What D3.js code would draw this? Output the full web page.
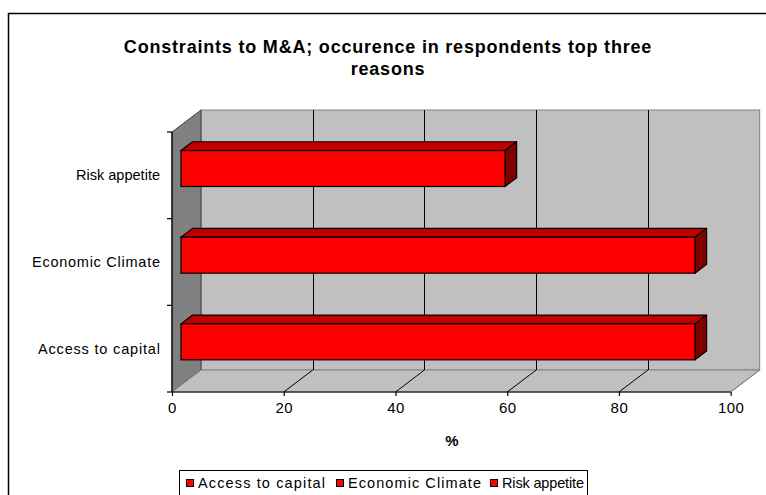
<!DOCTYPE html>
<html>
<head>
<meta charset="utf-8">
<script src="https://d3js.org/d3.v7.min.js"></script>
<style>
  html, body { margin: 0; padding: 0; background: #ffffff; }
  svg { display: block; }
  text { font-family: "Liberation Sans", Arial, sans-serif; fill: #000; }
</style>
</head>
<body>
<svg id="chart" width="766" height="495"></svg>
<script>
// Categories listed bottom to top, as stacked on the category axis
const categories = ["Access to capital", "Economic Climate", "Risk appetite"];
const seriesNames = ["Access to capital", "Economic Climate", "Risk appetite"];
const values = [92, 92, 58];
const xTicks = [0, 20, 40, 60, 80, 100];
const titleLines = ["Constraints to M&A; occurence in respondents top three", "reasons"];
const axisTitle = "%";

// set text widths for the category and legend labels (layout only)
const catLabelWidth = { "Access to capital": 122, "Economic Climate": 128, "Risk appetite": 84 };
const legendLabelWidth = { "Access to capital": 127, "Economic Climate": 133, "Risk appetite": 82 };

const svg = d3.select("#chart");

// outer chart frame (continues past the right and bottom edges)
svg.append("path")
  .attr("d", "M8.5,500 L8.5,13.5 L770,13.5")
  .attr("fill", "none").attr("stroke", "#000").attr("stroke-width", 1.5);

// 3-D box geometry
const DX = 29, DY = -22;            // depth offset of back wall
const x = d3.scaleLinear().domain([0, 100]).range([172, 730.7]);
const y = d3.scaleBand().domain(categories).range([392, 132]).padding(0);
const yTop = 132, yBot = 392;

const g = svg.append("g");

// back wall
g.append("rect")
  .attr("x", x(0) + DX).attr("y", yTop + DY)
  .attr("width", x(100) - x(0)).attr("height", yBot - yTop)
  .attr("fill", "#c0c0c0").attr("stroke", "#808080").attr("stroke-width", 1);

// left side wall
g.append("path")
  .attr("d", `M${x(0)},${yTop} L${x(0) + DX},${yTop + DY} L${x(0) + DX},${yBot + DY} L${x(0)},${yBot} Z`)
  .attr("fill", "#808080").attr("stroke", "#404040").attr("stroke-width", 1);

// floor
g.append("path")
  .attr("d", `M${x(0)},${yBot} L${x(0) + DX},${yBot + DY} L${x(100) + DX},${yBot + DY} L${x(100)},${yBot} Z`)
  .attr("fill", "#c0c0c0").attr("stroke", "#808080").attr("stroke-width", 1);

// vertical gridlines on back wall and matching floor lines
const inner = xTicks.filter(t => t > 0 && t < 100);
g.selectAll("line.grid").data(inner).join("line")
  .attr("class", "grid")
  .attr("x1", d => Math.round(x(d) + DX) + 0.5).attr("x2", d => Math.round(x(d) + DX) + 0.5)
  .attr("y1", yTop + DY).attr("y2", yBot + DY)
  .attr("stroke", "#000").attr("stroke-width", 1);
g.selectAll("line.floor").data(xTicks.filter(t => t > 0)).join("line")
  .attr("class", "floor")
  .attr("x1", d => x(d)).attr("y1", yBot)
  .attr("x2", d => x(d) + DX).attr("y2", yBot + DY)
  .attr("stroke", d => d === 100 ? "#808080" : "#000").attr("stroke-width", 1);

// bars: front face, top face and end face
const f0 = 0.31, f1 = 0.71;          // depth span occupied by the bars
const barFrac = 0.415;
const bh = y.bandwidth() * barFrac;
const rows = categories.map((c, i) => ({ cat: c, v: values[i] }));
const bars = g.selectAll("g.bar").data(rows).join("g").attr("class", "bar");

bars.each(function (d) {
  const sel = d3.select(this);
  const ox = DX * f0, oy = DY * f0;
  const ex = DX * (f1 - f0), ey = DY * (f1 - f0);
  const x0 = x(0) + ox, x1 = x(d.v) + ox;
  const yc = y(d.cat) + y.bandwidth() / 2 + oy;
  const y0 = yc - bh / 2, y1 = yc + bh / 2;
  // top face
  sel.append("path")
    .attr("d", `M${x0},${y0} L${x0 + ex},${y0 + ey} L${x1 + ex},${y0 + ey} L${x1},${y0} Z`)
    .attr("fill", "#c00000").attr("stroke", "#000").attr("stroke-width", 1.2).attr("stroke-linejoin", "round");
  // end face
  sel.append("path")
    .attr("d", `M${x1},${y0} L${x1 + ex},${y0 + ey} L${x1 + ex},${y1 + ey} L${x1},${y1} Z`)
    .attr("fill", "#800000").attr("stroke", "#000").attr("stroke-width", 1.2).attr("stroke-linejoin", "round");
  // front face
  sel.append("rect")
    .attr("x", x0).attr("y", y0).attr("width", x1 - x0).attr("height", y1 - y0)
    .attr("fill", "#ff0000").attr("stroke", "#000").attr("stroke-width", 1.2);
});

// category axis (front left edge)
g.append("line")
  .attr("x1", x(0)).attr("x2", x(0)).attr("y1", yTop).attr("y2", yBot)
  .attr("stroke", "#000").attr("stroke-width", 1.2);
const yEdges = [yBot, ...categories.map(c => y(c))];
g.selectAll("line.ytick").data(yEdges).join("line")
  .attr("class", "ytick")
  .attr("x1", x(0) - 5).attr("x2", x(0)).attr("y1", d => d).attr("y2", d => d)
  .attr("stroke", "#000").attr("stroke-width", 1.2);
g.selectAll("text.ylab").data(categories).join("text")
  .attr("class", "ylab")
  .attr("x", 160).attr("y", d => y(d) + y.bandwidth() / 2)
  .attr("dy", "0.35em").attr("text-anchor", "end")
  .attr("font-size", 14.5)
  .attr("textLength", d => catLabelWidth[d]).attr("lengthAdjust", "spacing")
  .text(d => d);

// value axis along the front floor edge
const xAxis = d3.axisBottom(x).tickValues(xTicks).tickSize(4).tickPadding(6).tickFormat(d3.format("d"));
const ax = svg.append("g").attr("transform", `translate(0,${yBot})`).call(xAxis);
ax.select(".domain").attr("stroke", "#000").attr("stroke-width", 1.2).attr("d", `M${x(0)},0H${x(100)}`);
ax.selectAll(".tick line").attr("stroke", "#000").attr("stroke-width", 1.2);
ax.selectAll(".tick text").attr("font-size", 15).attr("letter-spacing", 0.5)
  .attr("font-family", "Liberation Sans, Arial, sans-serif").attr("fill", "#000");

// axis title
svg.append("text").attr("x", 452).attr("y", 446).attr("text-anchor", "middle")
  .attr("font-size", 15).attr("font-weight", "bold").text(axisTitle);

// chart title
svg.selectAll("text.title").data(titleLines).join("text")
  .attr("class", "title")
  .attr("x", 388).attr("y", (d, i) => 53 + i * 22)
  .attr("text-anchor", "middle").attr("font-size", 18).attr("font-weight", "bold")
  .attr("letter-spacing", 0.8)
  .text(d => d);

// legend
const lg = svg.append("g");
lg.append("rect").attr("x", 179.5).attr("y", 470.5).attr("width", 408).attr("height", 30)
  .attr("fill", "#fff").attr("stroke", "#000").attr("stroke-width", 1);
const legendX = [186, 336, 490];
const items = lg.selectAll("g.item").data(seriesNames).join("g").attr("class", "item")
  .attr("transform", (d, i) => `translate(${legendX[i]},0)`);
items.append("rect").attr("x", 0.5).attr("y", 479.5).attr("width", 7).attr("height", 7)
  .attr("fill", "#ff0000").attr("stroke", "#000").attr("stroke-width", 1);
items.append("text").attr("x", 12).attr("y", 483).attr("dy", "0.35em")
  .attr("font-size", 14.5)
  .attr("textLength", d => legendLabelWidth[d]).attr("lengthAdjust", "spacing")
  .text(d => d);
</script>
</body>
</html>
